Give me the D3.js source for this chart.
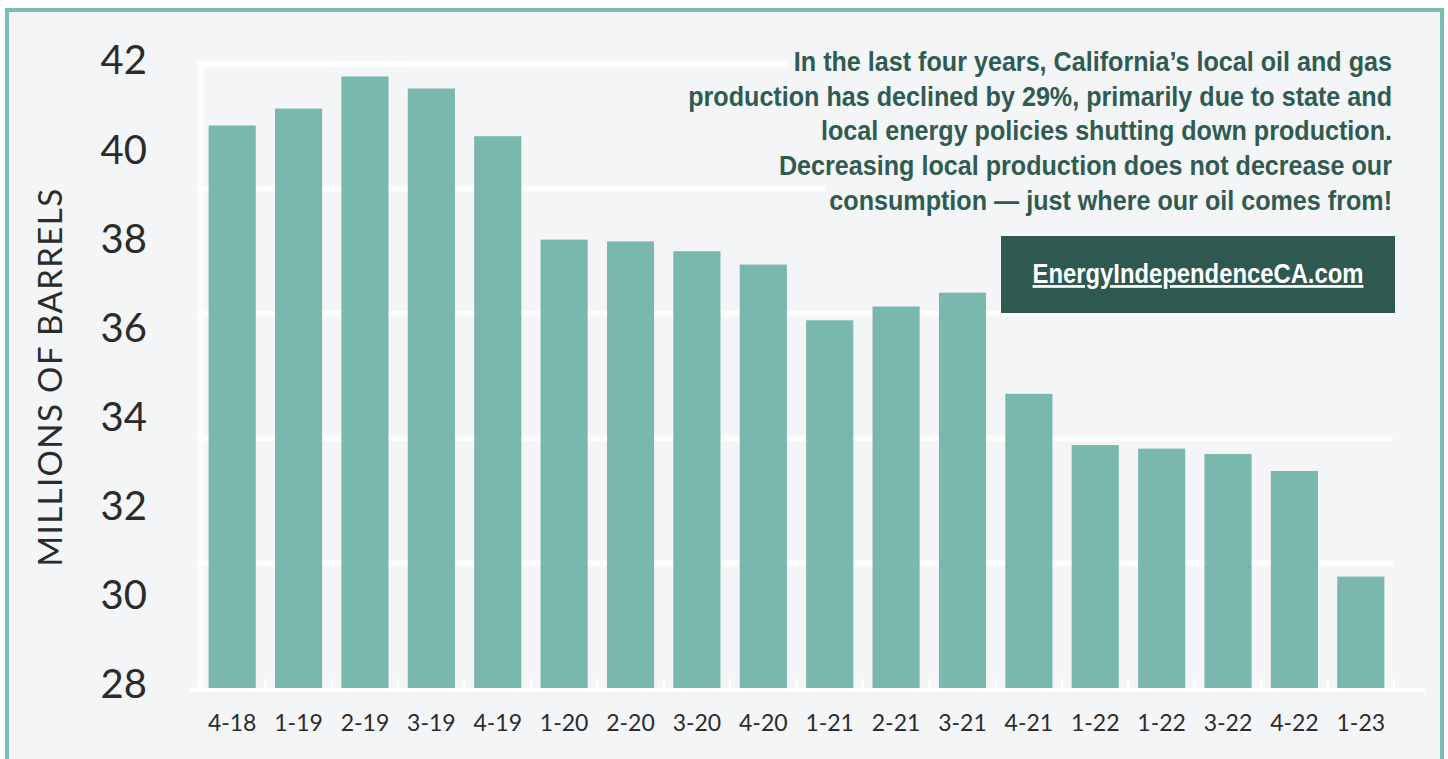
<!DOCTYPE html>
<html><head><meta charset="utf-8">
<script src="https://cdn.jsdelivr.net/npm/d3@7"></script>
<style>body{margin:0;background:#fff;overflow:hidden}</style>
</head><body><svg id="chart" width="1448" height="759"></svg>
<script>
const categories = ["4-18","1-19","2-19","3-19","4-19","1-20","2-20","3-20","4-20","1-21","2-21","3-21","4-21","1-22","1-22","3-22","4-22","1-23"];
const values = [40.62,41.0,41.72,41.45,40.38,38.06,38.02,37.8,37.5,36.25,36.56,36.87,34.6,33.45,33.37,33.25,32.87,30.5];
const yTicks = [28,30,32,34,36,38,40,42];
const gridValues = [30.8,33.6,36.4,39.2,42];
const yTitle = "MILLIONS OF BARRELS";
const noteLines = [
  "In the last four years, California\u2019s local oil and gas",
  "production has declined by 29%, primarily due to state and",
  "local energy policies shutting down production.",
  "Decreasing local production does not decrease our",
  "consumption \u2014 just where our oil comes from!"
];
const linkText = "EnergyIndependenceCA.com";

const svg = d3.select("#chart");
const bg = "#f4f5f7", teal = "#7bbdb3", barColor = "#7ab8ae", dark = "#2e5850", textCol = "#2b2b2b";

svg.append("rect").attr("x",7).attr("y",10).attr("width",1435).attr("height",800)
  .attr("fill",bg).attr("stroke",teal).attr("stroke-width",4);

const y = d3.scaleLinear().domain([28,42]).range([688,64]);
const x = d3.scaleBand().domain(d3.range(categories.length)).range([199,1394])
  .paddingInner(0.29).paddingOuter(0.145);

// gridlines
svg.append("g").selectAll("line").data(gridValues).join("line")
  .attr("x1",197).attr("x2",1393).attr("y1",d=>y(d)).attr("y2",d=>y(d))
  .attr("stroke","#fdfdfe").attr("stroke-width",6);
// left frame
svg.append("line").attr("x1",200.5).attr("x2",200.5).attr("y1",y(42)-3).attr("y2",y(28)+4)
  .attr("stroke","#fdfdfe").attr("stroke-width",6);
// baseline
svg.append("line").attr("x1",190).attr("x2",1425).attr("y1",y(28)+2).attr("y2",y(28)+2)
  .attr("stroke","#fff").attr("stroke-width",4);
// tick marks between bands
const step = x.step(), gap = step*x.paddingInner();
const tickPos = d3.range(categories.length+1).map(i => i < categories.length ? x(i) - gap/2 : x(i-1)+x.bandwidth()+gap/2);
svg.append("g").selectAll("line").data(tickPos).join("line")
  .attr("x1",d=>d).attr("x2",d=>d).attr("y1",y(28)-9).attr("y2",y(28)+2)
  .attr("stroke","#fff").attr("stroke-width",2.5);

// bars
svg.append("g").selectAll("rect").data(values).join("rect")
  .attr("x",(d,i)=>x(i)).attr("width",x.bandwidth())
  .attr("y",d=>y(d)).attr("height",d=>y(28)-y(d))
  .attr("fill",barColor);

// y tick labels
svg.append("g").selectAll("text").data(yTicks).join("text")
  .attr("x",147).attr("y",d=>y(d)-4).attr("dy","0.36em")
  .attr("text-anchor","end").attr("font-family","Lato, sans-serif")
  .attr("font-size",40).attr("fill",textCol).text(d=>d);

// y title
svg.append("text").attr("transform","translate(62,377) rotate(-90)")
  .attr("text-anchor","middle").attr("font-family","Lato, sans-serif")
  .attr("font-size",33).attr("fill",textCol).attr("letter-spacing",1.4).text(yTitle);

// x labels
svg.append("g").selectAll("text").data(categories).join("text")
  .attr("x",(d,i)=>x(i)+x.bandwidth()/2).attr("y",723).attr("dy","0.36em")
  .attr("text-anchor","middle").attr("font-family","Lato, sans-serif")
  .attr("font-size",23).attr("fill",textCol).text(d=>d);

// annotation
const noteFont = "'Liberation Sans Narrow', 'Arial Narrow', 'Liberation Sans', Arial, sans-serif";
const note = svg.append("g");
const noteText = note.append("g");
const lines = noteText.selectAll("text").data(noteLines).join("text")
  .attr("x",0).attr("y",(d,i)=>71 + i*34.75)
  .attr("text-anchor","end").attr("font-family",noteFont).attr("font-weight","bold")
  .attr("font-size",27).attr("fill","#2f5b51").text(d=>d);
const w2 = lines.nodes()[1].getComputedTextLength();
const sx = 704 / w2;
noteText.attr("transform",`translate(1392,0) scale(${sx},1)`);
// per-line backgrounds
const bgG = note.insert("g",":first-child");
lines.each(function(d,i){
  const w = this.getComputedTextLength()*sx;
  bgG.append("rect").attr("x",1392-w-4).attr("y",71+i*34.75-24).attr("width",w+8).attr("height",32).attr("fill",bg);
});

// link box
svg.append("rect").attr("x",1001).attr("y",236).attr("width",394).attr("height",77).attr("fill",dark);
const link = svg.append("text").attr("x",0).attr("y",283)
  .attr("text-anchor","middle").attr("font-family",noteFont).attr("font-weight","bold")
  .attr("font-size",27).attr("fill","#fff").attr("text-decoration","underline").text(linkText);
const lw = link.node().getComputedTextLength();
link.attr("transform",`translate(1198,0) scale(${331/lw},1)`);
</script></body></html>
